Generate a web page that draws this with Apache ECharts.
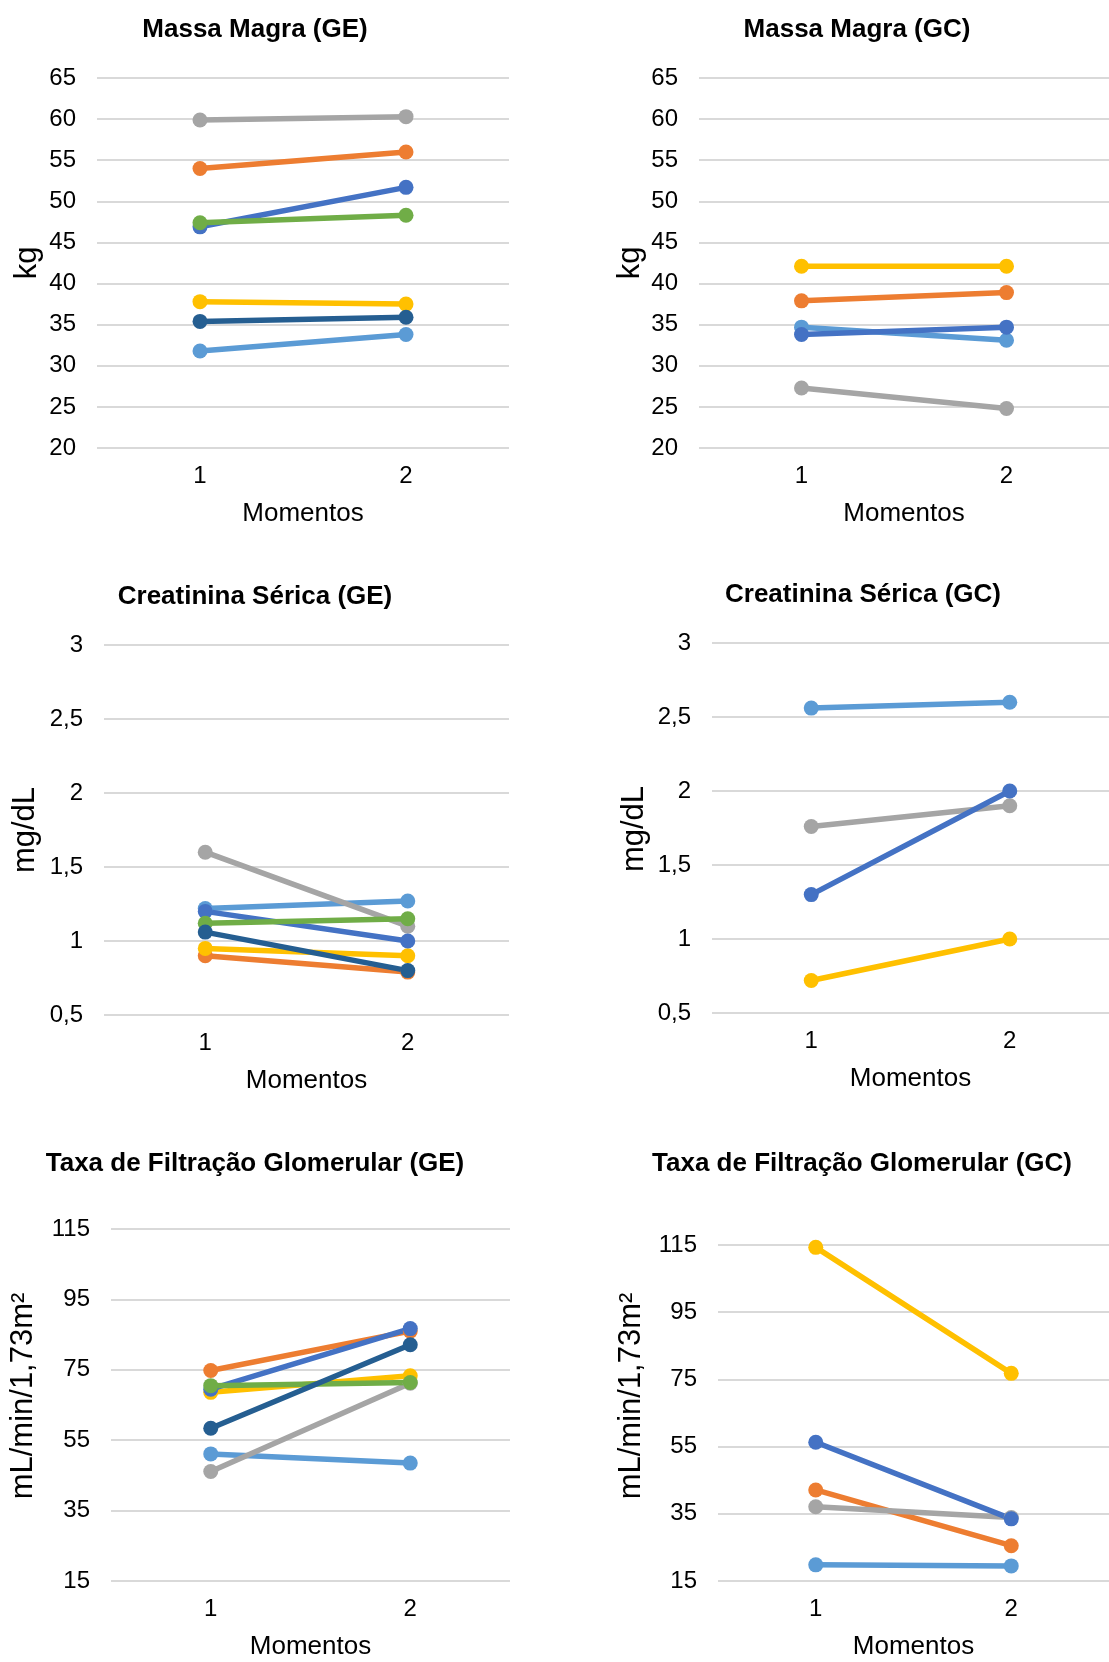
<!DOCTYPE html>
<html>
<head>
<meta charset="utf-8">
<script src="https://cdn.jsdelivr.net/npm/echarts@6/dist/echarts.min.js"></script>
<style>
  html, body { margin: 0; padding: 0; background: #ffffff; }
  #chart { width: 1109px; height: 1662px; }
</style>
</head>
<body>
<div id="chart"></div>
<script>
// Moments of measurement (x categories)
const momentos = ['1', '2'];

// One colour per participant, in series order
const palette = ['#5B9BD5', '#ED7D31', '#A5A5A5', '#FFC000', '#4472C4', '#70AD47', '#255E91'];

// Massa magra (kg) — each row is one participant: [momento 1, momento 2]
const massaGE = [[31.8, 33.8], [54.0, 56.0], [59.9, 60.3], [37.8, 37.5], [46.9, 51.7], [47.4, 48.3], [35.4, 35.9]];
const massaGC = [[34.7, 33.1], [37.9, 38.9], [27.3, 24.8], [42.1, 42.1], [33.8, 34.7]];

// Creatinina sérica (mg/dL)
const creatGE = [[1.22, 1.27], [0.90, 0.79], [1.60, 1.10], [0.95, 0.90], [1.20, 1.00], [1.12, 1.15], [1.06, 0.80]];
const creatGC = [[2.56, 2.60], [null, null], [1.76, 1.90], [0.72, 1.00], [1.30, 2.00]];

// Taxa de filtração glomerular (mL/min/1,73m²)
const tfgGE = [[51.1, 48.5], [74.8, 86.0], [46.1, 71.2], [68.6, 73.3], [69.5, 86.7], [70.5, 71.4], [58.4, 82.1]];
const tfgGC = [[19.8, 19.5], [42.1, 25.5], [37.1, 33.9], [114.3, 76.8], [56.3, 33.5]];

// Value-axis ticks
const ticksMassa = [20, 25, 30, 35, 40, 45, 50, 55, 60, 65];
const ticksCreat = [0.5, 1, 1.5, 2, 2.5, 3];
const ticksTfg = [15, 35, 55, 75, 95, 115];

const panels = [
  { title: 'Massa Magra (GE)', unit: 'kg', rows: massaGE, ticks: ticksMassa },
  { title: 'Massa Magra (GC)', unit: 'kg', rows: massaGC, ticks: ticksMassa },
  { title: 'Creatinina Sérica (GE)', unit: 'mg/dL', rows: creatGE, ticks: ticksCreat },
  { title: 'Creatinina Sérica (GC)', unit: 'mg/dL', rows: creatGC, ticks: ticksCreat },
  { title: 'Taxa de Filtração Glomerular (GE)', unit: 'mL/min/1,73m²', rows: tfgGE, ticks: ticksTfg },
  { title: 'Taxa de Filtração Glomerular (GC)', unit: 'mL/min/1,73m²', rows: tfgGC, ticks: ticksTfg }
];

// Page layout of the six small charts
const layout = [
  { grid: { left: 97, top: 78, width: 412, height: 370 }, title: [255, 30], name: [27, 263] },
  { grid: { left: 699, top: 78, width: 412, height: 370 }, title: [857, 30], name: [630, 263] },
  { grid: { left: 104, top: 645, width: 405, height: 370 }, title: [255, 597], name: [25, 830] },
  { grid: { left: 712, top: 643, width: 405, height: 370 }, title: [863, 595], name: [634, 829] },
  { grid: { left: 111, top: 1229, width: 399, height: 352 }, title: [255, 1164], name: [23, 1396] },
  { grid: { left: 718, top: 1245, width: 398, height: 336 }, title: [862, 1164], name: [631, 1396] }
];

const FONT = '"Liberation Sans", Arial, sans-serif';
const commaDecimal = v => String(v).replace('.', ',');

const grids = [], xAxes = [], yAxes = [], series = [], graphics = [];

panels.forEach((p, i) => {
  const L = layout[i];
  grids.push(Object.assign({ containLabel: false }, L.grid));

  xAxes.push({
    type: 'category', gridIndex: i, data: momentos, boundaryGap: true,
    axisLine: { show: false }, axisTick: { show: false },
    axisLabel: { fontSize: 24, color: '#000', margin: 16, fontFamily: FONT },
    name: 'Momentos', nameLocation: 'middle', nameGap: 53,
    nameTextStyle: { fontSize: 26, color: '#000', fontFamily: FONT }
  });

  const t = p.ticks;
  yAxes.push({
    type: 'value', gridIndex: i,
    min: t[0], max: t[t.length - 1], interval: t[1] - t[0],
    axisLine: { show: false }, axisTick: { show: false },
    axisLabel: { fontSize: 24, color: '#000', margin: 21, fontFamily: FONT, formatter: commaDecimal },
    splitLine: { show: true, lineStyle: { color: '#D9D9D9', width: 2 } }
  });

  p.rows.forEach((row, k) => {
    const c = palette[k];
    series.push({
      type: 'line', xAxisIndex: i, yAxisIndex: i, data: row,
      symbol: 'circle', symbolSize: 15, showSymbol: true,
      lineStyle: { color: c, width: 5.5, cap: 'round' }, itemStyle: { color: c },
      silent: true, animation: false
    });
  });

  graphics.push({
    type: 'text', x: L.title[0], y: L.title[1],
    style: { text: p.title, font: 'bold 26px ' + FONT, fill: '#000', textAlign: 'center', textVerticalAlign: 'middle' }
  });
  graphics.push({
    type: 'text', x: L.name[0], y: L.name[1], rotation: Math.PI / 2,
    style: { text: p.unit, font: '31px ' + FONT, fill: '#000', textAlign: 'center', textVerticalAlign: 'middle' }
  });
});

const chart = echarts.init(document.getElementById('chart'), null, { renderer: 'canvas' });
chart.setOption({
  backgroundColor: '#ffffff',
  animation: false,
  textStyle: { fontFamily: FONT },
  grid: grids,
  xAxis: xAxes,
  yAxis: yAxes,
  series: series,
  graphic: graphics
});
</script>
</body>
</html>
